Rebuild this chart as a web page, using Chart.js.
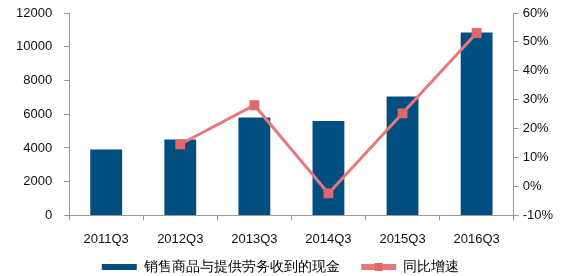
<!DOCTYPE html>
<html>
<head>
<meta charset="utf-8">
<script src="https://cdn.jsdelivr.net/npm/chart.js@4"></script>
<style>
  html, body { margin: 0; padding: 0; background: #fff; }
  #wrap { width: 563px; height: 276px; }
</style>
</head>
<body>
<div id="wrap"><canvas id="cashChart" width="563" height="276"></canvas></div>
<script>
const quarters = ['2011Q3', '2012Q3', '2013Q3', '2014Q3', '2015Q3', '2016Q3'];
const cashValues = [3900, 4500, 5800, 5600, 7050, 10850];
const growthRates = [null, 14.6, 28.1, -2.4, 25.3, 53.1];
const leftTicks = [0, 2000, 4000, 6000, 8000, 10000, 12000];
const rightTicks = [-10, 0, 10, 20, 30, 40, 50, 60];

const barColor = '#004f80';
const lineColor = '#e8787a';
const markerColor = '#e06868';
const axisGray = '#999999';
const fontFamily = '"Liberation Sans", Arial, sans-serif';

// legend: trim its height a bit and draw the square marker on the line item
const legendTweaks = {
  id: 'legendTweaks',
  beforeLayout(chart) {
    const lg = chart.legend;
    if (lg && !lg._patched) {
      const fit = lg.fit;
      lg.fit = function () {
        fit.call(this);
        this.height = this.height - 8;
      };
      lg._patched = true;
    }
  },
  afterDraw(chart) {
    const boxes = chart.legend.legendHitBoxes;
    if (!boxes || boxes.length < 2) return;
    const b = boxes[1];
    const ctx = chart.ctx;
    const cx = b.left + 35 / 2;
    const cy = b.top + b.height / 2;
    ctx.save();
    ctx.fillStyle = markerColor;
    ctx.fillRect(cx - 4, cy - 4, 8, 8);
    ctx.restore();
  }
};

// keep the top of the value axes close to the canvas edge
function tightTop(axis) {
  axis.paddingTop = 13;
}

const ctx = document.getElementById('cashChart');

new Chart(ctx, {
  type: 'bar',
  data: {
    labels: quarters,
    datasets: [{
      type: 'line',
      label: '同比增速',
      data: growthRates,
      yAxisID: 'y1',
      borderColor: lineColor,
      backgroundColor: markerColor,
      borderWidth: 3,
      pointStyle: 'rect',
      pointRadius: 7,
      pointBorderWidth: 0,
      spanGaps: true,
      tension: 0,
      order: 0
    }, {
      label: '销售商品与提供劳务收到的现金',
      data: cashValues,
      yAxisID: 'y',
      backgroundColor: barColor,
      categoryPercentage: 1,
      barPercentage: 0.43,
      order: 1
    }]
  },
  options: {
    responsive: false,
    animation: false,
    layout: { padding: { left: 4, right: 6, top: 0, bottom: 0 } },
    plugins: {
      tooltip: { enabled: false },
      legend: {
        position: 'bottom',
        labels: {
          boxWidth: 35,
          boxHeight: 6,
          color: '#111',
          padding: 2,
          font: { family: fontFamily, size: 14 },
          generateLabels(chart) {
            return [
              { text: '销售商品与提供劳务收到的现金     ', fillStyle: barColor, strokeStyle: barColor, lineWidth: 0, datasetIndex: 1 },
              { text: '同比增速', fillStyle: lineColor, strokeStyle: lineColor, lineWidth: 0, datasetIndex: 0 }
            ];
          }
        }
      }
    },
    scales: {
      x: {
        grid: { display: true, drawOnChartArea: false, color: axisGray, tickLength: 5, offset: true },
        border: { color: axisGray, width: 1 },
        ticks: { color: '#111', font: { family: fontFamily, size: 13 }, padding: 11 }
      },
      y: {
        position: 'left',
        min: 0,
        max: 12000,
        afterBuildTicks(axis) { axis.ticks = leftTicks.map(v => ({ value: v })); },
        afterFit: tightTop,
        grid: { display: true, drawOnChartArea: false, color: axisGray, tickLength: 5 },
        border: { color: axisGray, width: 1 },
        ticks: { color: '#111', font: { family: fontFamily, size: 13 }, padding: 12, callback: v => String(v) }
      },
      y1: {
        position: 'right',
        min: -10,
        max: 60,
        afterBuildTicks(axis) { axis.ticks = rightTicks.map(v => ({ value: v })); },
        afterFit: tightTop,
        grid: { display: true, drawOnChartArea: false, color: axisGray, tickLength: 5 },
        border: { color: axisGray, width: 1 },
        ticks: { color: '#111', font: { family: fontFamily, size: 13 }, padding: 4, callback: v => v + '%' }
      }
    }
  },
  plugins: [legendTweaks]
});
</script>
</body>
</html>
